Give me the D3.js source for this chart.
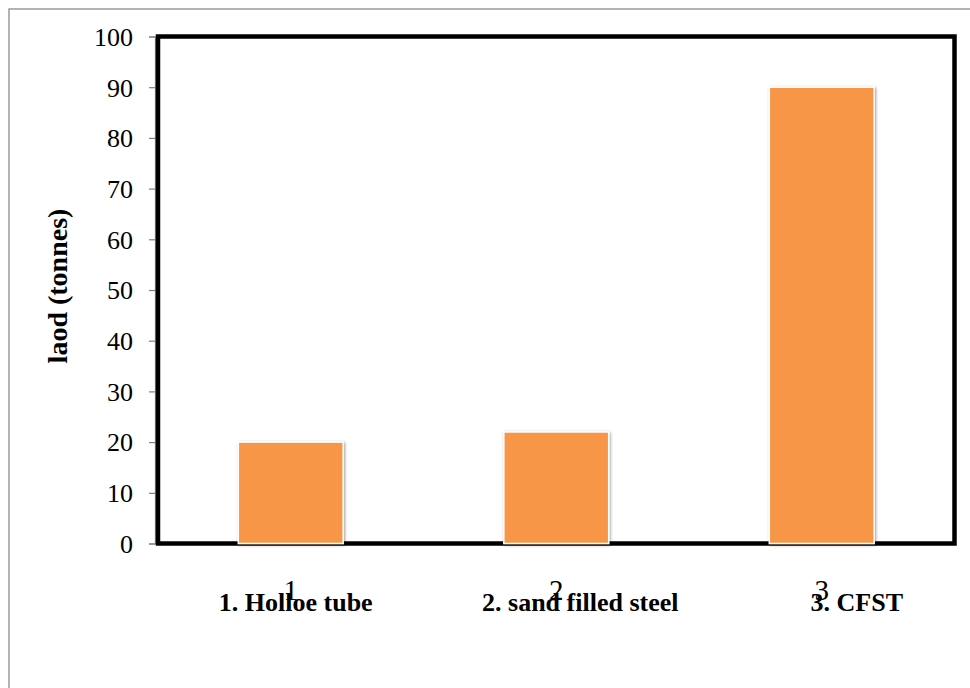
<!DOCTYPE html>
<html>
<head>
<meta charset="utf-8">
<script src="https://cdn.jsdelivr.net/npm/d3@7/dist/d3.min.js"></script>
<style>
  html, body { margin: 0; padding: 0; background: #fff; }
  svg { display: block; }
</style>
</head>
<body>
<svg id="chart" width="970" height="688"></svg>
<script>
// Load test results for three column types
const categories = ["1", "2", "3"];
const loads = [20, 22, 90];
const categoryNames = ["1. Holloe tube", "2. sand filled steel", "3. CFST"];
const yTicks = [0, 10, 20, 30, 40, 50, 60, 70, 80, 90, 100];
const yTitle = "laod (tonnes)";

const svg = d3.select("#chart");
const serif = "'Liberation Serif', 'Times New Roman', serif";

// plot frame bounds
const plotLeft = 158, plotRight = 954.5, plotTop = 36.5, plotBottom = 543.5;

// outer chart border (runs off the right and bottom edges)
svg.append("rect")
  .attr("x", 9).attr("y", 9)
  .attr("width", 980).attr("height", 700)
  .attr("fill", "none")
  .attr("stroke", "#9a9a9a")
  .attr("stroke-width", 1.5);

const x = d3.scaleBand()
  .domain(categories)
  .range([plotLeft, plotRight])
  .paddingInner(0.605)
  .paddingOuter(0.3025);

const y = d3.scaleLinear()
  .domain([0, 100])
  .range([plotBottom, plotTop]);

// soft shadow behind the bars
const defs = svg.append("defs");
const f = defs.append("filter").attr("id", "barShadow")
  .attr("x", "-10%").attr("y", "-10%").attr("width", "120%").attr("height", "120%");
f.append("feGaussianBlur").attr("in", "SourceAlpha").attr("stdDeviation", 1.8).attr("result", "b");
f.append("feOffset").attr("in", "b").attr("dx", 0.5).attr("dy", 0.5).attr("result", "o");
f.append("feComponentTransfer").attr("in", "o").attr("result", "s")
  .append("feFuncA").attr("type", "linear").attr("slope", 0.4);
const m = f.append("feMerge");
m.append("feMergeNode").attr("in", "s");
m.append("feMergeNode").attr("in", "SourceGraphic");

// y axis (thin grey line with outward ticks)
const yAxis = svg.append("g")
  .attr("transform", `translate(${plotLeft - 3},0)`)
  .call(d3.axisLeft(y).tickValues(yTicks).tickSize(6).tickPadding(16));
yAxis.select(".domain").attr("stroke", "#7f7f7f").attr("stroke-width", 1.2);
yAxis.selectAll(".tick line").attr("stroke", "#7f7f7f").attr("stroke-width", 1.2);
yAxis.selectAll(".tick text")
  .attr("font-family", serif)
  .attr("font-size", 26)
  .attr("fill", "#000")
  .attr("dy", "0.34em");

// heavy black frame around the plot area
svg.append("rect")
  .attr("x", plotLeft).attr("y", plotTop)
  .attr("width", plotRight - plotLeft).attr("height", plotBottom - plotTop)
  .attr("fill", "none")
  .attr("stroke", "#000")
  .attr("stroke-width", 4.5);

// bars
svg.append("g").selectAll("rect")
  .data(loads)
  .join("rect")
  .attr("x", (d, i) => x(categories[i]))
  .attr("y", d => y(d))
  .attr("width", x.bandwidth())
  .attr("height", d => y(0) - y(d))
  .attr("fill", "#F79646")
  .attr("stroke", "#fff")
  .attr("stroke-width", 1.5)
  .attr("filter", "url(#barShadow)");

// x axis tick numbers
const xAxis = svg.append("g")
  .attr("transform", `translate(0,${plotBottom})`)
  .call(d3.axisBottom(x).tickSize(0).tickPadding(36));
xAxis.select(".domain").remove();
xAxis.selectAll(".tick text")
  .attr("font-family", serif)
  .attr("font-size", 29)
  .attr("fill", "#000");

// category names written below the ticks
const nameShift = [5, 24, 35];
svg.append("g").selectAll("text")
  .data(categoryNames)
  .join("text")
  .attr("x", (d, i) => x(categories[i]) + x.bandwidth() / 2 + nameShift[i])
  .attr("y", 611)
  .attr("text-anchor", "middle")
  .attr("font-family", serif)
  .attr("font-weight", "bold")
  .attr("font-size", 26)
  .attr("fill", "#000")
  .text(d => d);

// y axis title
svg.append("text")
  .attr("transform", "translate(67,286) rotate(-90)")
  .attr("text-anchor", "middle")
  .attr("font-family", serif)
  .attr("font-weight", "bold")
  .attr("font-size", 28)
  .attr("fill", "#000")
  .text(yTitle);
</script>
</body>
</html>
